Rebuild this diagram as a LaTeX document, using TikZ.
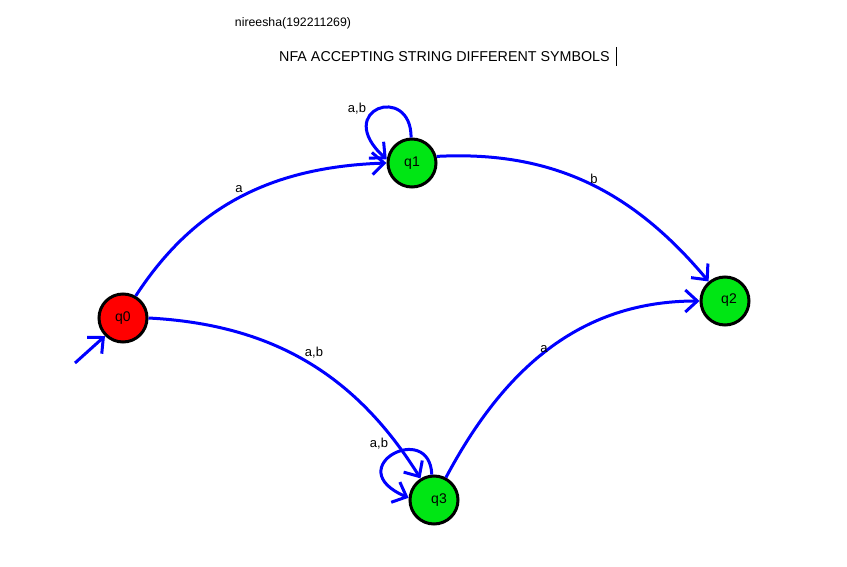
\documentclass[tikz,border=0pt]{standalone}
\usepackage{fontspec}
\setmainfont{Liberation Sans}
\usetikzlibrary{arrows.meta}
\definecolor{pblue}{RGB}{0,0,255}
\definecolor{pred}{RGB}{255,0,0}
\definecolor{pgreen}{RGB}{0,230,20}
\begin{document}
\begin{tikzpicture}[x=1pt,y=1pt,
  state/.style={circle,draw=black,line width=3pt,minimum size=48pt,inner sep=0pt,font=\fontsize{14}{16}\selectfont},
  edge/.style={draw=pblue,line width=3pt,-{Straight Barb[length=12pt,width=22pt,line width=3pt]}},
  lbl/.style={font=\fontsize{13}{15}\selectfont,inner sep=0pt},
  ttl/.style={font=\fontsize{14.3}{16}\selectfont,inner sep=0pt},
  auth/.style={font=\fontsize{12.3}{14}\selectfont,inner sep=0pt}]
\useasboundingbox (0,0) rectangle (847,-567);
\fill[white] (0,0) rectangle (847,-567);

\node[auth] (author) at (293,-23) {nireesha(192211269)};
\node[ttl,anchor=west] (title) at (279,-57) {NFA ACCEPTING STRING DIFFERENT SYMBOLS};
\coordinate (curtop) at (616,-47);
\coordinate (curbot) at (616,-66);
\draw[line width=0.8pt] (curtop) -- (curbot);

\node[state,fill=pred] (q0) at (123,-318) {q0};
\node[state,fill=pgreen] (q1) at (412,-163) {q1};
\node[state,fill=pgreen] (q2) at (725,-301) {\raisebox{4pt}{\hspace{8pt}q2}};
\node[state,fill=pgreen] (q3) at (434,-500) {\hspace{10pt}q3};

\coordinate (start) at (75,-363);
\draw[edge] (start) -- (q0.225);

\draw[edge] (q0.60) to[out=57,in=182] (q1.west);
\draw[edge] (q1.15) to[out=3,in=130] (q2.130);
\draw[edge] (q0.east) to[out=-3,in=122] (q3.122);
\draw[edge] (q3.62) to[out=62,in=180] (q2.west);

\draw[edge] (q1.92) .. controls +(0,55) and +(-55,50) .. (q1.172);
\draw[edge] (q3.95) .. controls +(-2,55) and +(-70,30) .. (q3.175);

\node[lbl] (l1) at (239,-189) {a};
\node[lbl] (l2) at (594,-179) {b};
\node[lbl] (l3) at (314,-353) {a,b};
\node[lbl] (l4) at (544,-349) {a};
\node[lbl] (l5) at (357,-109) {a,b};
\node[lbl] (l6) at (379,-444) {a,b};
\end{tikzpicture}
\end{document}
